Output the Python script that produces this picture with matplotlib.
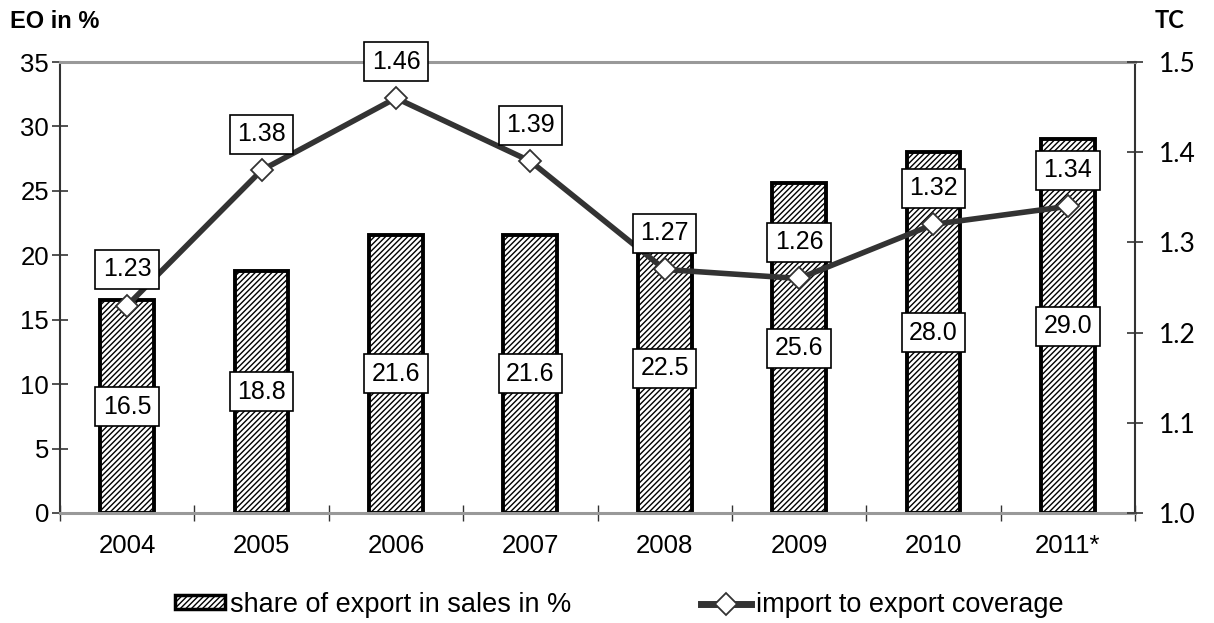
import matplotlib
matplotlib.use("Agg")
import matplotlib.pyplot as plt
import numpy as np
from matplotlib.lines import Line2D
from matplotlib.patches import Patch

plt.rcParams['font.family'] = ['Liberation Sans', 'DejaVu Sans']
plt.rcParams['hatch.linewidth'] = 1.0
plt.rcParams['hatch.color'] = '#444444'

years = ['2004', '2005', '2006', '2007', '2008', '2009', '2010', '2011*']
export_share = [16.5, 18.8, 21.6, 21.6, 22.5, 25.6, 28.0, 29.0]
coverage = [1.23, 1.38, 1.46, 1.39, 1.27, 1.26, 1.32, 1.34]
export_labels = ['16.5', '18.8', '21.6', '21.6', '22.5', '25.6', '28.0', '29.0']
coverage_labels = ['1.23', '1.38', '1.46', '1.39', '1.27', '1.26', '1.32', '1.34']

fig = plt.figure(figsize=(12.14, 6.23), dpi=100)
ax = fig.add_axes([60/1214, 1-513/623, (1135-60)/1214, (513-62)/623])
ax2 = ax.twinx()

x = np.arange(len(years))
ax.bar(x, export_share, width=0.4, facecolor='white', edgecolor='black',
       linewidth=2.8, hatch='//////', zorder=2)
ax.set_xlim(-0.5, len(years) - 0.5)
ax.set_ylim(0, 35)
ax.set_yticks(np.arange(0, 36, 5))
ax.set_xticks(x)
ax.set_xticklabels(years)
ax.set_xticks(np.arange(-0.5, len(years), 1), minor=True)
ax.tick_params(axis='x', which='major', length=0, pad=15, labelsize=18.5)
ax.tick_params(axis='x', which='minor', length=11, width=1, direction='inout', color='#333333')
ax.tick_params(axis='y', length=12, width=1.2, direction='inout', labelsize=18.5, pad=2, color='#333333')

for s in ['top', 'bottom']:
    ax.spines[s].set_color('#999999')
    ax.spines[s].set_linewidth(2.2)
ax.spines['left'].set_color('#333333')
ax.spines['left'].set_linewidth(1.5)
ax.spines['right'].set_color('#333333')
ax.spines['right'].set_linewidth(1.5)
for s in ['top', 'bottom', 'left', 'right']:
    ax2.spines[s].set_visible(False)

for xi, v, lab in zip(x, export_share, export_labels):
    ax.text(xi, v / 2, lab, ha='center', va='center', fontsize=18, zorder=5,
            bbox=dict(boxstyle='square,pad=0.3', facecolor='white', edgecolor='black', linewidth=1.2))

ax2.plot(x, coverage, color='#333333', linewidth=4, marker='D', markersize=11,
         markerfacecolor='white', markeredgecolor='#333333', markeredgewidth=1.3, zorder=3)
ax2.set_ylim(1.0, 1.5)
ax2.set_yticks([1.0, 1.1, 1.2, 1.3, 1.4, 1.5])
ax2.set_yticklabels(['1.0', '1.1', '1.2', '1.3', '1.4', '1.5'], family=['Lato', 'Liberation Sans'])
ax2.tick_params(axis='y', length=11, width=1.2, direction='inout', labelsize=19, pad=12, color='#333333')

for xi, v, lab in zip(x, coverage, coverage_labels):
    ax2.annotate(lab, (xi, v), xytext=(0, 26), textcoords='offset points', ha='center', va='center',
                 fontsize=18, zorder=6, annotation_clip=False,
                 bbox=dict(boxstyle='square,pad=0.3', facecolor='white', edgecolor='black', linewidth=1.2))

fig.text(10/1214, 1-21/623, 'EO in %', fontsize=17, fontweight='bold', ha='left', va='center')
fig.text(1155/1214, 1-21/623, 'TC', fontsize=17, fontweight='bold', ha='left', va='center',
         family=['Lato', 'Liberation Sans'])

h1 = Patch(facecolor='white', edgecolor='black', linewidth=2.5, hatch='//////')
h2 = Line2D([], [], color='#333333', linewidth=5, marker='D', markersize=11,
            markerfacecolor='white', markeredgecolor='#333333', markeredgewidth=1.3)
fig.legend([h1, h2], ['share of export in sales in %', 'import to export coverage'],
           loc='center', bbox_to_anchor=(619/1214, 1-605/623), ncol=2, frameon=False,
           fontsize=19.5, handlelength=1.85, handleheight=0.4, handletextpad=0.18, columnspacing=4.8)

fig.savefig('out.png', dpi=100)
